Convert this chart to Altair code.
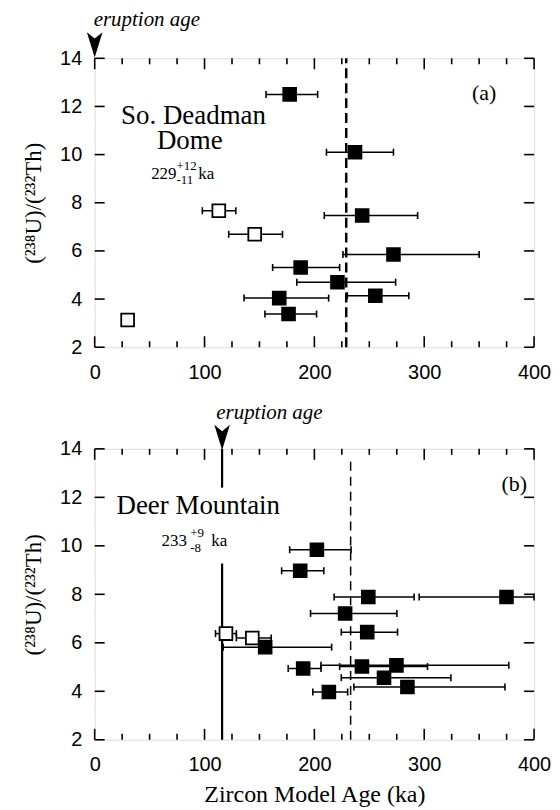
import altair as alt
import pandas as pd

# ---------------- data ----------------
# Panel (a): So. Deadman Dome
a_age   = [177.5, 237.0, 243.5, 272.0, 187.5, 221.0, 255.5, 168.0, 176.5, 113.0, 145.7, 30.0]
a_ratio = [12.5, 10.1, 7.47, 5.85, 5.31, 4.70, 4.14, 4.04, 3.38, 7.67, 6.69, 3.13]
a_lo    = [156, 211, 209, 226, 162, 184, 230, 136, 155, 98, 122, 30]
a_hi    = [203, 272, 294, 350, 223, 274, 286, 213, 202, 128.5, 171, 30]
a_kind  = ["filled"] * 9 + ["open"] * 3
a_model_age = 229
a_eruption = 0

# Panel (b): Deer Mountain
b_age   = [202.3, 187.1, 249.1, 374.9, 228.0, 248.1, 119.5, 143.5, 155.2, 189.8, 243.3, 274.7, 263.4, 284.7, 213.2]
b_ratio = [9.84, 8.97, 7.89, 7.89, 7.21, 6.44, 6.38, 6.20, 5.82, 4.94, 5.02, 5.07, 4.56, 4.18, 3.97]
b_lo    = [177.5, 170.2, 218, 295.4, 196.5, 224.5, 110, 129, 117, 176.2, 223, 206, 224.5, 236, 198.6]
b_hi    = [233.4, 208.6, 290.8, 400, 275.1, 275.7, 129, 160.7, 215.7, 206, 303, 377, 324.3, 373.5, 230.3]
b_kind  = ["filled"] * 6 + ["open"] * 2 + ["filled"] * 7
b_model_age = 233
b_eruption = 116

x_major = [0, 100, 200, 300, 400]
x_minor = [25, 50, 75, 125, 150, 175, 225, 250, 275, 325, 350, 375]
y_major = [2, 4, 6, 8, 10, 12, 14]

W = 441
HA = 290
HB = 292

SERIF = "Liberation Serif"
SANS = "Liberation Sans"
ARROW = "M-0.62,-1 L0,1 L0.62,-1 L0,-0.5 Z"

X0, X1, Y0, Y1 = 0, 400, 2, 14
xs = alt.Scale(domain=[X0, X1], nice=False, zero=False)
ys = alt.Scale(domain=[Y0, Y1], nice=False, zero=False)


def panel(age, ratio, lo, hi, kind, H, xtitle):
    df = pd.DataFrame({"age": age, "ratio": ratio, "lo": lo, "hi": hi, "kind": kind})
    xpu = (X1 - X0) / W      # data units per pixel (x)
    ypu = (Y1 - Y0) / H      # data units per pixel (y)

    # caps (error-bar ends) and inward frame ticks share one vertical-tick table
    cx = list(lo) + list(hi)
    cy = list(ratio) + list(ratio)
    cl = [7] * (2 * len(lo))
    for vals, L in ((x_major, 11), (x_minor, 6)):
        for yy in (Y0 + L / 2 * ypu, Y1 - L / 2 * ypu):
            cx += list(vals)
            cy += [yy] * len(vals)
            cl += [L] * len(vals)
    caps = pd.DataFrame({"x": cx, "ratio": cy, "len": cl})

    hx, hy = [], []
    for xx in (X0 + 5 * xpu, X1 - 5 * xpu):
        hx += [xx] * len(y_major)
        hy += list(y_major)
    hdf = pd.DataFrame({"x": hx, "ratio": hy})

    x_axis = alt.Axis(values=x_major, ticks=False, domain=False, grid=False,
                      labelFont=SANS, labelFontSize=20, labelPadding=15,
                      labelColor="black", labelFlush=False, labelOverlap=False,
                      title=xtitle, titleFont=SERIF, titleFontSize=24,
                      titleFontWeight="normal", titleColor="black", titlePadding=8)
    y_axis = alt.Axis(values=y_major, ticks=False, domain=False, grid=False,
                      labelFont=SANS, labelFontSize=20, labelPadding=13,
                      labelColor="black", labelOverlap=False,
                      title="(²³⁸U)/(²³²Th)", titleFont=SERIF, titleFontSize=23,
                      titleFontWeight="normal", titleColor="black", titlePadding=14)

    bars = alt.Chart(df).mark_rule(color="black", strokeWidth=1.5).encode(
        x=alt.X("lo:Q", scale=xs, axis=x_axis),
        x2="hi:Q",
        y=alt.Y("ratio:Q", scale=ys, axis=y_axis),
    )
    capm = alt.Chart(caps).mark_tick(orient="vertical", thickness=1.6,
                                     color="black", opacity=1).encode(
        x=alt.X("x:Q", scale=xs),
        y=alt.Y("ratio:Q", scale=ys),
        size=alt.Size("len:Q", scale=None, legend=None),
    )
    hcap = alt.Chart(hdf).mark_tick(orient="horizontal", size=10, thickness=1.6,
                                    color="black", opacity=1).encode(
        x=alt.X("x:Q", scale=xs),
        y=alt.Y("ratio:Q", scale=ys),
    )
    pts = alt.Chart(df).mark_square(size=165, stroke="black", strokeWidth=1.8,
                                    opacity=1, fillOpacity=1).encode(
        x=alt.X("age:Q", scale=xs),
        y=alt.Y("ratio:Q", scale=ys),
        fill=alt.Fill("kind:N", scale=alt.Scale(domain=["filled", "open"],
                                                range=["black", "white"]), legend=None),
    )
    return bars, capm, hcap, pts


def text(s, x, y, size, align="left", style="normal", font=SERIF):
    return alt.Chart(pd.DataFrame({"s": [s]})).mark_text(
        font=font, fontSize=size, align=align, baseline="alphabetic",
        fontStyle=style, color="black").encode(
        x=alt.XDatum(x, scale=xs), y=alt.YDatum(y, scale=ys), text="s:N")


def arrow(x, y):
    return alt.Chart(pd.DataFrame({"s": [1]})).mark_point(
        shape=ARROW, filled=True, size=640, color="black", opacity=1).encode(
        x=alt.XDatum(x, scale=xs), y=alt.YDatum(y, scale=ys))


def vrule(x, y1, y2, width, dash=None):
    kw = dict(color="black", strokeWidth=width)
    if dash:
        kw["strokeDash"] = dash
    return alt.Chart(pd.DataFrame({"s": [1]})).mark_rule(**kw).encode(
        x=alt.XDatum(x, scale=xs), y=alt.YDatum(y1, scale=ys), y2=alt.datum(y2))


# ---------------- panel (a) ----------------
bars, capm, hcap, pts = panel(a_age, a_ratio, a_lo, a_hi, a_kind, HA, None)
chart_a = alt.layer(
    bars,
    vrule(a_model_age, 2, 14, 2.5, [10, 5]),
    capm, hcap, pts,
    text("So. Deadman", 90, 11.27, 27, align="center"),
    text("Dome", 86.6, 10.23, 27, align="center"),
    text("229", 51.4, 8.99, 17),
    text("+12", 74.4, 9.36, 13),
    text("-11", 74.4, 8.76, 13),
    text("ka", 94.3, 8.99, 17),
    text("(a)", 354.6, 12.26, 22, align="center"),
    text("eruption age", -0.9, 15.36, 21, style="italic"),
    arrow(a_eruption, 14.56),
).properties(width=W, height=HA)

# ---------------- panel (b) ----------------
bars, capm, hcap, pts = panel(b_age, b_ratio, b_lo, b_hi, b_kind, HB, "Zircon Model Age (ka)")
chart_b = alt.layer(
    bars,
    vrule(b_model_age, 2, 13.72, 1.5, [9, 6]),
    vrule(b_eruption, 2, 9.27, 2.2),
    vrule(b_eruption, 12.4, 14, 2.2),
    capm, hcap, pts,
    text("Deer Mountain", 94.3, 11.33, 27, align="center"),
    text("233", 60.8, 10.01, 17),
    text("+9", 87, 10.36, 13),
    text("-8", 87, 9.74, 13),
    text("ka", 106.1, 10.01, 17),
    text("(b)", 381.9, 12.28, 22, align="center"),
    text("eruption age", 110.7, 15.23, 21, style="italic"),
    arrow(b_eruption, 14.47),
).properties(width=W, height=HB)

chart = alt.vconcat(chart_a, chart_b, spacing=102, bounds="flush").properties(
    padding={"left": 14, "top": -2, "right": 0, "bottom": 0}
).configure_view(stroke="black", strokeWidth=1.5).configure(background="white")

chart.save("out.html", embed_options={"renderer": "svg", "actions": False})
